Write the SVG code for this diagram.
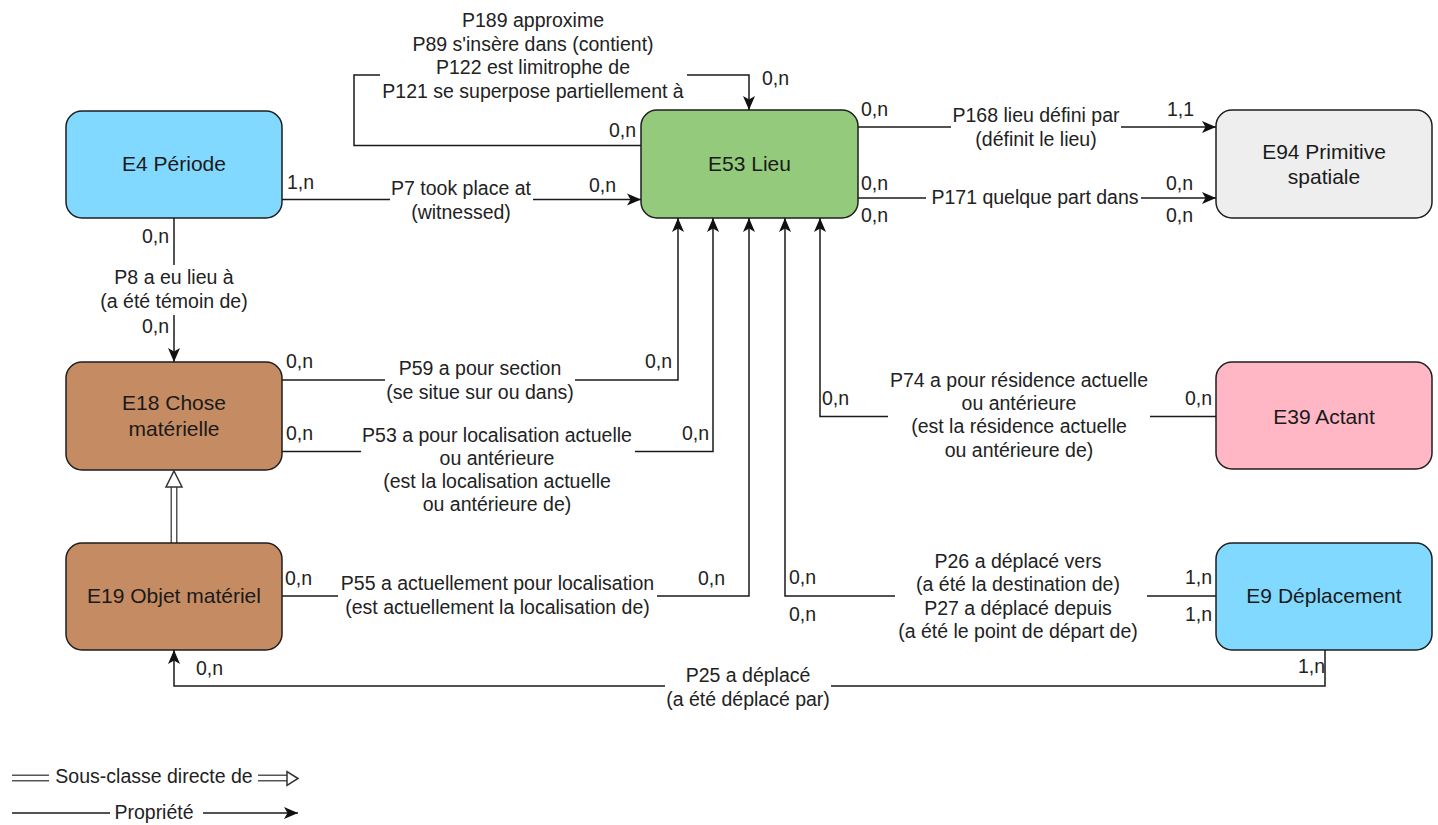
<svg xmlns="http://www.w3.org/2000/svg" width="1438" height="825" viewBox="0 0 1438 825">
<defs>
<style>
.box{stroke:#1e1e1e;stroke-width:1.5}
.name{font-family:"Liberation Sans",Arial,Helvetica,sans-serif;font-size:21px;fill:#1a1a1a;text-anchor:middle}
.lbl{font-family:"Liberation Sans",Arial,Helvetica,sans-serif;font-size:19.5px;fill:#222;text-anchor:middle}
.card{font-family:"Liberation Sans",Arial,Helvetica,sans-serif;font-size:19.5px;fill:#222}
.edge{fill:none;stroke:#1a1a1a;stroke-width:1.5}
.arr{marker-end:url(#arrow)}
.bg{fill:#ffffff}
.dbl-out{fill:none;stroke:#555;stroke-width:7}
.dbl-in{fill:none;stroke:#fff;stroke-width:4}
.hollow{fill:#fff;stroke:#333;stroke-width:1.5;stroke-linejoin:miter}
</style>
<marker id="arrow" markerUnits="userSpaceOnUse" markerWidth="16" markerHeight="14" refX="14" refY="6.5" orient="auto">
<path d="M0,0.5 L14,6.5 L0,12.5 L3.5,6.5 Z" fill="#111"/>
</marker>
</defs>
<rect width="1438" height="825" fill="#ffffff"/>

<g id="connectors">
<path id="e-p189" class="edge arr" d="M641,145.5 H354 V75 H749 V110"/>
<path id="e-p7" class="edge arr" d="M282,199.5 H641"/>
<path id="e-p8" class="edge arr" d="M174,218 V362"/>
<path id="e-p59" class="edge arr" d="M282,380 H678 V218"/>
<path id="e-p53" class="edge arr" d="M282,451.5 H713 V218"/>
<path id="e-p55" class="edge arr" d="M282,596 H749 V218"/>
<path id="e-p26" class="edge arr" d="M1216,596 H785 V218"/>
<path id="e-p74" class="edge arr" d="M1216,416.5 H820 V218"/>
<path id="e-p168" class="edge arr" d="M858,127 H1216"/>
<path id="e-p171" class="edge arr" d="M858,198 H1216"/>
<path id="e-p25" class="edge arr" d="M1325,650 V686 H174 V650"/>
<g id="e-sub">
<path class="dbl-out" d="M174,543 V486"/>
<path class="dbl-in" d="M174,544 V486"/>
<polygon class="hollow" points="174,471 182,487 166,487"/>
</g>
</g>

<g id="edge-labels">
<rect class="bg" x="380" y="6" width="307" height="96"/>
<text class="lbl"><tspan x="533" y="27">P189 approxime</tspan><tspan x="533" y="50.5">P89 s'insère dans (contient)</tspan><tspan x="533" y="74">P122 est limitrophe de</tspan><tspan x="533" y="97.5">P121 se superpose partiellement à</tspan></text>
<rect class="bg" x="390" y="180" width="143" height="44"/>
<text class="lbl"><tspan x="461" y="195">P7 took place at</tspan><tspan x="461" y="218.5">(witnessed)</tspan></text>
<rect class="bg" x="100" y="265" width="148" height="50"/>
<text class="lbl"><tspan x="174" y="284">P8 a eu lieu à</tspan><tspan x="174" y="307.5">(a été témoin de)</tspan></text>
<rect class="bg" x="385" y="360" width="190" height="46"/>
<text class="lbl"><tspan x="480" y="375">P59 a pour section</tspan><tspan x="480" y="398.5">(se situe sur ou dans)</tspan></text>
<rect class="bg" x="361" y="425" width="274" height="92"/>
<text class="lbl"><tspan x="497" y="441.5">P53 a pour localisation actuelle</tspan><tspan x="497" y="464.5">ou antérieure</tspan><tspan x="497" y="487.5">(est la localisation actuelle</tspan><tspan x="497" y="510.5">ou antérieure de)</tspan></text>
<rect class="bg" x="338" y="572" width="319" height="48"/>
<text class="lbl"><tspan x="497.5" y="590">P55 a actuellement pour localisation</tspan><tspan x="497.5" y="613.5">(est actuellement la localisation de)</tspan></text>
<rect class="bg" x="888" y="370" width="262" height="92"/>
<text class="lbl"><tspan x="1019" y="386.5">P74 a pour résidence actuelle</tspan><tspan x="1019" y="410">ou antérieure</tspan><tspan x="1019" y="433">(est la résidence actuelle</tspan><tspan x="1019" y="456.5">ou antérieure de)</tspan></text>
<rect class="bg" x="895" y="551" width="252" height="92"/>
<text class="lbl"><tspan x="1018" y="567.5">P26 a déplacé vers</tspan><tspan x="1018" y="591">(a été la destination de)</tspan><tspan x="1018" y="614.5">P27 a déplacé depuis</tspan><tspan x="1018" y="638">(a été le point de départ de)</tspan></text>
<rect class="bg" x="951" y="106" width="170" height="44"/>
<text class="lbl"><tspan x="1036" y="122">P168 lieu défini par</tspan><tspan x="1036" y="145.5">(définit le lieu)</tspan></text>
<rect class="bg" x="926" y="186" width="215" height="24"/>
<text class="lbl" x="1035" y="204">P171 quelque part dans</text>
<rect class="bg" x="665" y="664" width="166" height="46"/>
<text class="lbl"><tspan x="748" y="682">P25 a déplacé</tspan><tspan x="748" y="705.5">(a été déplacé par)</tspan></text>

<text class="card" x="762" y="84.5">0,n</text>
<text class="card" x="609" y="136.5">0,n</text>
<text class="card" x="287" y="189">1,n</text>
<text class="card" x="589" y="191.5">0,n</text>
<text class="card" x="142" y="243">0,n</text>
<text class="card" x="142" y="333">0,n</text>
<text class="card" x="286" y="368">0,n</text>
<text class="card" x="645" y="368">0,n</text>
<text class="card" x="286" y="440">0,n</text>
<text class="card" x="682" y="440">0,n</text>
<text class="card" x="285" y="585">0,n</text>
<text class="card" x="698" y="585">0,n</text>
<text class="card" x="861" y="116">0,n</text>
<text class="card" x="1167" y="116">1,1</text>
<text class="card" x="861" y="190">0,n</text>
<text class="card" x="861" y="221.5">0,n</text>
<text class="card" x="1166" y="190">0,n</text>
<text class="card" x="1166" y="221.5">0,n</text>
<text class="card" x="822" y="405">0,n</text>
<text class="card" x="1185" y="405">0,n</text>
<text class="card" x="789" y="583.5">0,n</text>
<text class="card" x="789" y="620.5">0,n</text>
<text class="card" x="1185" y="583.5">1,n</text>
<text class="card" x="1185" y="620.5">1,n</text>
<text class="card" x="196" y="675">0,n</text>
<text class="card" x="1298" y="673">1,n</text>
</g>

<g id="node-e4">
<rect class="box" x="66" y="111" width="216" height="107" rx="16" fill="#81D9FF"/>
<text class="name" x="174" y="170.5">E4 Période</text>
</g>
<g id="node-e53">
<rect class="box" x="641" y="110" width="217" height="108" rx="16" fill="#93CA7C"/>
<text class="name" x="749.5" y="170.5">E53 Lieu</text>
</g>
<g id="node-e94">
<rect class="box" x="1216" y="110" width="216" height="108" rx="16" fill="#EEEEEE"/>
<text class="name"><tspan x="1324" y="158.5">E94 Primitive</tspan><tspan x="1324" y="183.5">spatiale</tspan></text>
</g>
<g id="node-e18">
<rect class="box" x="66" y="362" width="216" height="108" rx="16" fill="#C58B62"/>
<text class="name"><tspan x="174" y="410">E18 Chose</tspan><tspan x="174" y="435.5">matérielle</tspan></text>
</g>
<g id="node-e39">
<rect class="box" x="1216" y="362" width="216" height="107" rx="16" fill="#FFB7C6"/>
<text class="name" x="1324" y="423.5">E39 Actant</text>
</g>
<g id="node-e19">
<rect class="box" x="66" y="543" width="216" height="107" rx="16" fill="#C58B62"/>
<text class="name" x="174" y="603">E19 Objet matériel</text>
</g>
<g id="node-e9">
<rect class="box" x="1216" y="543" width="216" height="107" rx="16" fill="#81D9FF"/>
<text class="name" x="1324" y="603">E9 Déplacement</text>
</g>

<g id="legend">
<path class="dbl-out" d="M12,778 H49"/>
<path class="dbl-in" d="M11,778 H49"/>
<path class="dbl-out" d="M258,778 H288"/>
<path class="dbl-in" d="M258,778 H288"/>
<polygon class="hollow" points="298,778.5 287,771.5 287,785.5"/>
<text class="lbl" x="154" y="783">Sous-classe directe de</text>
<path class="edge" d="M12,813 H110"/>
<path class="edge arr" d="M203,813 H298"/>
<text class="lbl" x="154" y="818.5">Propriété</text>
</g>
</svg>
